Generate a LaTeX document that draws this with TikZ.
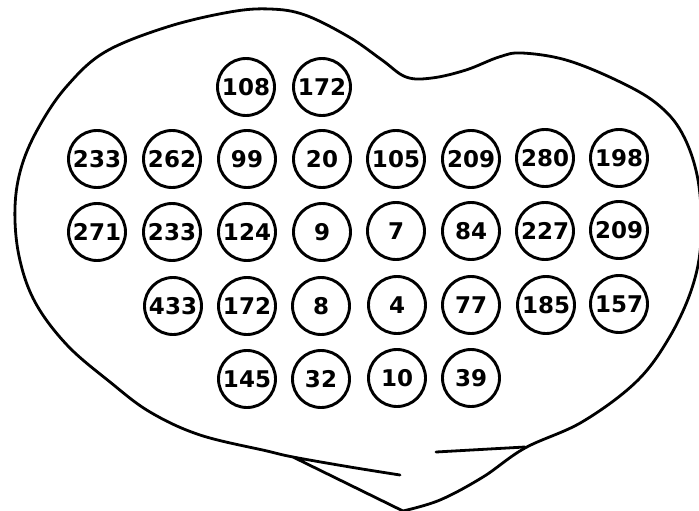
\documentclass[tikz,border=0pt]{standalone}
\usepackage{fontspec}
\setmainfont{DejaVu Sans}

\begin{document}
\begin{tikzpicture}[x=1pt, y=-1pt,
  cell/.style={draw, circle, line width=2.9pt, minimum size=57pt, inner sep=0pt, font=\bfseries\fontsize{23}{23}\selectfont},
  rim/.style={line width=2.8pt, line cap=round, line join=round}]
  \useasboundingbox (0,0) rectangle (699,511);
  \node[cell] (a3) at (246,87) {108};
  \node[cell] (a4) at (322,87) {172};
  \node[cell] (b1) at (97,159) {233};
  \node[cell] (b2) at (172,159) {262};
  \node[cell] (b3) at (247,159) {99};
  \node[cell] (b4) at (322,159) {20};
  \node[cell] (b5) at (396,159) {105};
  \node[cell] (b6) at (471,159) {209};
  \node[cell] (b7) at (545,158) {280};
  \node[cell] (b8) at (619,158) {198};
  \node[cell] (c1) at (97,232) {271};
  \node[cell] (c2) at (172,232) {233};
  \node[cell] (c3) at (247,232) {124};
  \node[cell] (c4) at (322,232) {9};
  \node[cell] (c5) at (396,231) {7};
  \node[cell] (c6) at (471,231) {84};
  \node[cell] (c7) at (545,231) {227};
  \node[cell] (c8) at (619,230) {209};
  \node[cell] (d2) at (173,306) {433};
  \node[cell] (d3) at (247,306) {172};
  \node[cell] (d4) at (321,306) {8};
  \node[cell] (d5) at (397,305) {4};
  \node[cell] (d6) at (471,305) {77};
  \node[cell] (d7) at (546,305) {185};
  \node[cell] (d8) at (619,304) {157};
  \node[cell] (e3) at (247,379) {145};
  \node[cell] (e4) at (321,379) {32};
  \node[cell] (e5) at (397,378) {10};
  \node[cell] (e6) at (471,378) {39};
  \draw[rim] plot[smooth, tension=0.6] coordinates {(400,475) (350,467) (293,457) (267,451) (200,435) (150,412) (110,382) (67,345) (35,302) (19,256) (15,207) (22,165) (40,125) (67,86) (105,52) (167,27) (230,12) (270,9) (305,15) (349,37) (382,60) (406,77) (432,78) (466,70) (499,57) (522,53) (566,60) (616,80) (656,103) (682,133) (698,180) (701,240) (692,288) (669,338) (636,382) (582,422) (525,448) (483,477) (440,500) (403,511)} -- (293,457);
  \draw[rim] (436,452) -- (525,447);
\end{tikzpicture}
\end{document}
